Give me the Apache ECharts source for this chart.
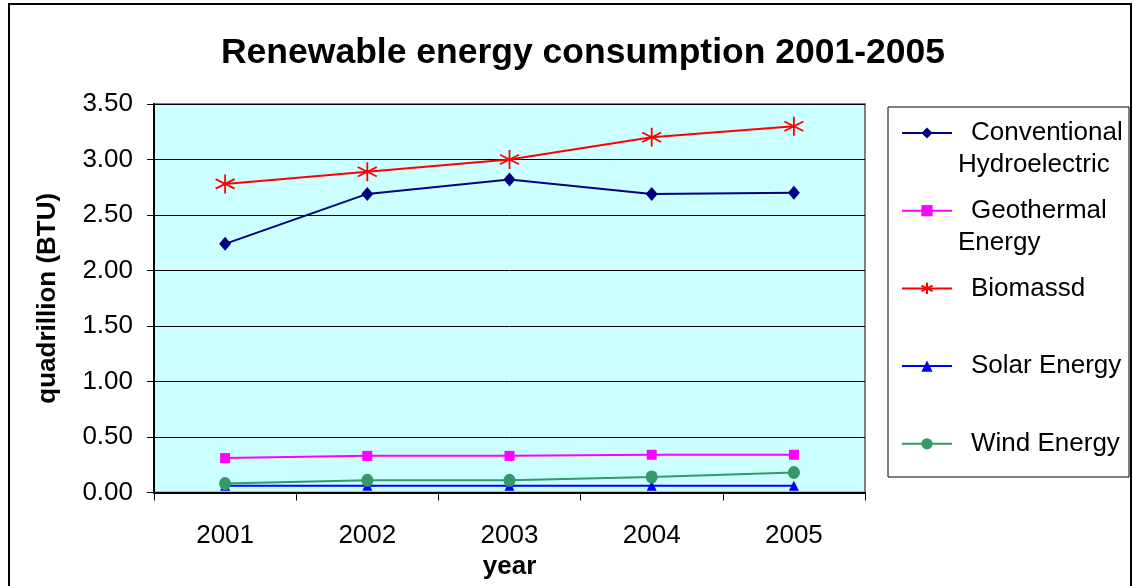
<!DOCTYPE html>
<html>
<head>
<meta charset="utf-8">
<script src="https://cdn.jsdelivr.net/npm/echarts@6/dist/echarts.min.js"></script>
<style>
  html, body { margin: 0; padding: 0; background: #fff; }
  #chart { width: 1133px; height: 586px; }
</style>
</head>
<body>
<div id="chart"></div>
<script>
// Renewable energy consumption, quadrillion BTU
const years = ['2001', '2002', '2003', '2004', '2005'];
const hydro = [2.24, 2.69, 2.82, 2.69, 2.70];
const geothermal = [0.31, 0.33, 0.33, 0.34, 0.34];
const biomass = [2.78, 2.89, 3.00, 3.20, 3.30];
const solar = [0.06, 0.06, 0.06, 0.06, 0.06];
const wind = [0.08, 0.11, 0.11, 0.14, 0.18];
const yTicks = { min: 0, max: 3.5, step: 0.5 };

// legend text: first line beside the icon, optional second line below
const legendLines = {
  'Conventional Hydroelectric': ['Conventional', 'Hydroelectric'],
  'Geothermal Energy': ['Geothermal', 'Energy'],
  'Biomassd': ['Biomassd'],
  'Solar Energy': ['Solar Energy'],
  'Wind Energy': ['Wind Energy']
};

const FONT = 'Liberation Sans, Arial, sans-serif';
const asterisk = 'path://M0,-1L0,1M-0.866,-0.5L0.866,0.5M-0.866,0.5L0.866,-0.5';

const chart = echarts.init(document.getElementById('chart'), null, { renderer: 'canvas' });

function lineSeries(name, data, color, symbol, size, extra) {
  return Object.assign({
    name: name,
    type: 'line',
    data: data,
    symbol: symbol,
    symbolSize: size,
    showAllSymbol: true,
    lineStyle: { color: color, width: 2 },
    itemStyle: { color: color },
    animation: false
  }, extra || {});
}

const secondLines = [];
const legendTop = 118;
const pitch = 77.7;
Object.keys(legendLines).forEach(function (k, i) {
  const ln = legendLines[k];
  if (ln.length > 1) {
    secondLines.push({
      type: 'text',
      left: 958,
      top: legendTop + i * pitch + 34,
      style: { text: ln[1], font: '26px ' + FONT, fill: '#000' }
    });
  }
});

chart.setOption({
  backgroundColor: '#ffffff',
  textStyle: { fontFamily: FONT },
  title: {
    text: 'Renewable energy consumption 2001-2005',
    left: 578,
    textAlign: 'center',
    top: 30,
    textStyle: { fontSize: 35.5, fontWeight: 'bold', color: '#000', fontFamily: FONT }
  },
  grid: {
    left: 154, right: 268, top: 104, bottom: 93.5,
    outerBoundsMode: 'none',
    containLabel: false,
    show: true,
    backgroundColor: '#CCFFFF',
    borderColor: '#808080',
    borderWidth: 2
  },
  legend: {
    orient: 'vertical',
    left: 901,
    top: legendTop,
    padding: 0,
    itemWidth: 50,
    itemHeight: 14,
    itemGap: pitch - 30,
    data: Object.keys(legendLines),
    formatter: function (name) { return '{t|' + legendLines[name][0] + '}'; },
    textStyle: {
      color: '#000',
      fontSize: 26,
      lineHeight: 30,
      fontFamily: FONT,
      rich: { t: { fontSize: 26, lineHeight: 30, padding: [0, 0, 0, 14], fontFamily: FONT } }
    }
  },
  xAxis: {
    type: 'category',
    data: years,
    boundaryGap: true,
    name: 'year',
    nameLocation: 'middle',
    nameGap: 59,
    nameTextStyle: { fontSize: 26, fontWeight: 'bold', color: '#000', fontFamily: FONT },
    axisLine: { lineStyle: { color: '#000', width: 2 } },
    axisTick: { show: true, alignWithLabel: false, length: 8, lineStyle: { color: '#000' } },
    axisLabel: { fontSize: 26, color: '#000', margin: 30, fontFamily: FONT },
    splitLine: { show: false }
  },
  yAxis: {
    type: 'value',
    min: yTicks.min,
    max: yTicks.max,
    interval: yTicks.step,
    name: 'quadrillion (BTU)',
    nameLocation: 'middle',
    nameGap: 93,
    nameTextStyle: { fontSize: 26, fontWeight: 'bold', color: '#000', fontFamily: FONT },
    axisLine: { show: true, lineStyle: { color: '#000', width: 2 } },
    axisTick: { show: true, length: 7, lineStyle: { color: '#000' } },
    axisLabel: {
      fontSize: 26, color: '#000', margin: 21, fontFamily: FONT,
      formatter: function (v) { return v.toFixed(2); }
    },
    splitLine: { show: true, lineStyle: { color: '#000', width: 1 } }
  },
  graphic: [
    {
      type: 'rect',
      shape: { x: 9, y: 4, width: 1122, height: 620 },
      style: { fill: 'none', stroke: '#000', lineWidth: 2 },
      silent: true
    },
    {
      type: 'rect',
      shape: { x: 888, y: 107, width: 241, height: 370 },
      style: { fill: 'none', stroke: '#000', lineWidth: 1 },
      silent: true
    }
  ].concat(secondLines),
  series: [
    lineSeries('Conventional Hydroelectric', hydro, '#000080', 'diamond', [12, 14]),
    lineSeries('Geothermal Energy', geothermal, '#FF00FF', 'rect', [10, 10]),
    lineSeries('Biomassd', biomass, '#FF0000', asterisk, [19, 19], {
      itemStyle: { color: 'none', borderColor: '#FF0000', borderWidth: 1.8 }
    }),
    lineSeries('Solar Energy', solar, '#0000FF', 'triangle', [10, 10]),
    lineSeries('Wind Energy', wind, '#339966', 'circle', [12, 13])
  ]
});
</script>
</body>
</html>
